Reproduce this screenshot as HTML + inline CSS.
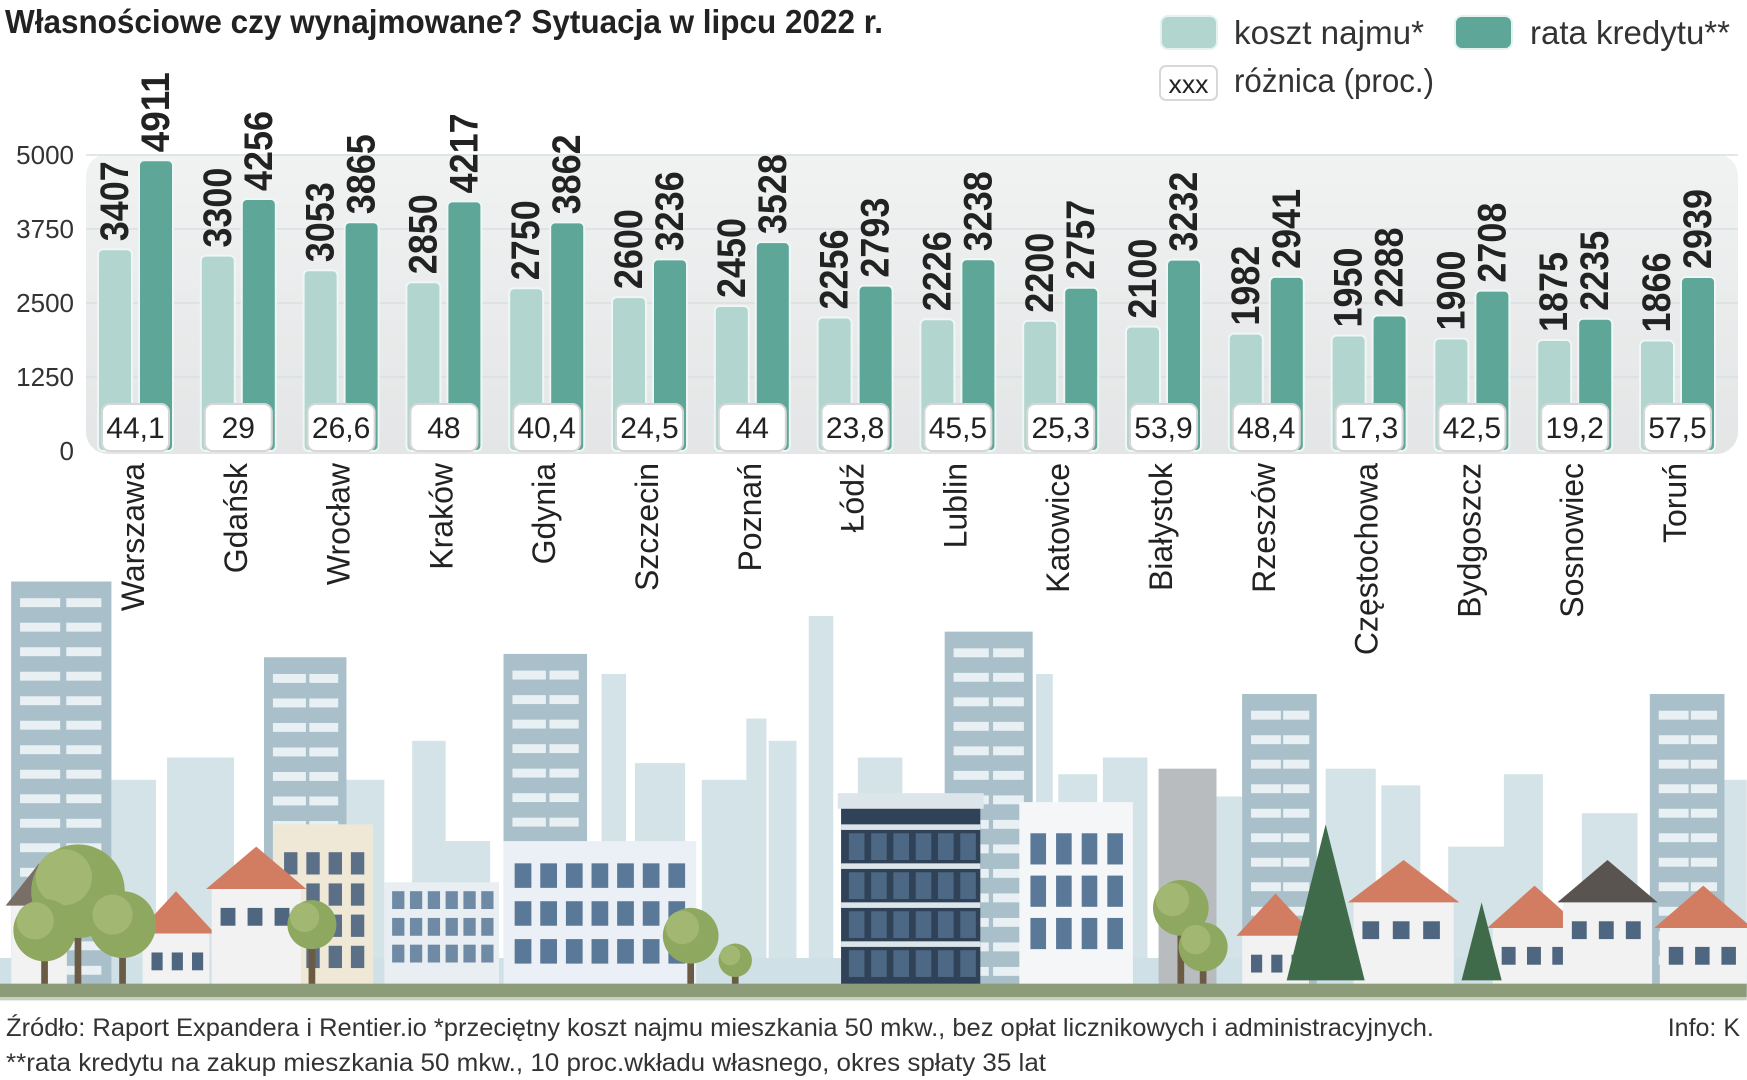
<!DOCTYPE html>
<html><head><meta charset="utf-8">
<style>
html,body{margin:0;padding:0;background:#fff;}
svg{display:block;font-family:"Liberation Sans",sans-serif;}
</style></head>
<body>
<svg id="chart" width="1747" height="1080" viewBox="0 0 1747 1080" xmlns="http://www.w3.org/2000/svg">
<defs>
<linearGradient id="panelG" x1="0" y1="0" x2="0" y2="1">
<stop offset="0" stop-color="#f1f2f2"/><stop offset="1" stop-color="#e3e5e6"/>
</linearGradient>
</defs>
<text x="5" y="33" font-size="33" font-weight="bold" fill="#222" textLength="878" lengthAdjust="spacingAndGlyphs">Własnościowe czy wynajmowane? Sytuacja w lipcu 2022 r.</text>

<g>
<rect x="1161" y="16" width="56" height="33" rx="7" fill="#b3d5cf" stroke="#e6f2f0" stroke-width="2"/>
<text x="1234" y="44" font-size="33" fill="#333" textLength="190" lengthAdjust="spacingAndGlyphs">koszt najmu*</text>
<rect x="1455" y="16" width="57" height="33" rx="7" fill="#5ea698" stroke="#e6f2f0" stroke-width="2"/>
<text x="1530" y="44" font-size="33" fill="#333" textLength="200" lengthAdjust="spacingAndGlyphs">rata kredytu**</text>
<rect x="1160" y="66" width="57" height="34" rx="6" fill="#fff" stroke="#d8d8d8" stroke-width="2"/>
<text x="1188.5" y="93" font-size="26" fill="#222" text-anchor="middle" textLength="40" lengthAdjust="spacingAndGlyphs">xxx</text>
<text x="1234" y="92" font-size="33" fill="#333" textLength="200" lengthAdjust="spacingAndGlyphs">różnica (proc.)</text>
</g>

<rect x="86" y="154" width="1652" height="300" rx="22" fill="url(#panelG)"/>
<g id="grid"></g>
<g id="yaxis"></g>
<g id="bars"></g>

<g id="city"></g>

<text x="6" y="1036" font-size="25" fill="#333" textLength="1428" lengthAdjust="spacingAndGlyphs">Źródło: Raport Expandera i Rentier.io *przeciętny koszt najmu mieszkania 50 mkw., bez opłat licznikowych i administracyjnych.</text>
<text x="1740" y="1036" font-size="25" fill="#333" text-anchor="end">Info: K</text>
<text x="6" y="1071" font-size="25" fill="#333" textLength="1040" lengthAdjust="spacingAndGlyphs">**rata kredytu na zakup mieszkania 50 mkw., 10 proc.wkładu własnego, okres spłaty 35 lat</text>
</svg>
<script>
const cities=["Warszawa","Gdańsk","Wrocław","Kraków","Gdynia","Szczecin","Poznań","Łódź","Lublin","Katowice","Białystok","Rzeszów","Częstochowa","Bydgoszcz","Sosnowiec","Toruń"];
const rentValues=[3407,3300,3053,2850,2750,2600,2450,2256,2226,2200,2100,1982,1950,1900,1875,1866];
const loanValues=[4911,4256,3865,4217,3862,3236,3528,2793,3238,2757,3232,2941,2288,2708,2235,2939];
const diffLabels=["44,1","29","26,6","48","40,4","24,5","44","23,8","45,5","25,3","53,9","48,4","17,3","42,5","19,2","57,5"];
const yTicks=[0,1250,2500,3750,5000];

const NS="http://www.w3.org/2000/svg";
const y0=451, yMax=5000, yPx=296;
function yScale(v){return y0-v*yPx/yMax;}
function xGroup(i){return 98+i*102.8;}
function mk(tag,attrs,parent,txt){const e=document.createElementNS(NS,tag);for(const k in attrs)e.setAttribute(k,attrs[k]);if(txt!==undefined)e.textContent=txt;parent.appendChild(e);return e;}

const grid=document.getElementById('grid'),yaxis=document.getElementById('yaxis'),bars=document.getElementById('bars');
yTicks.forEach(t=>{
  if(t>0){const l=mk('line',{x1:86,x2:1738,y1:yScale(t),y2:yScale(t),stroke:'#d9dfe2','stroke-width':1.5},grid);
  
  }
  const tx=mk('text',{x:74,y:yScale(t)+9,'font-size':26,fill:'#333','text-anchor':'end'},yaxis,String(t));
  
  
});
cities.forEach((c,i)=>{
  const x=xGroup(i), w=34;
  const g=mk('g',{},bars);
  
  
  const r=mk('rect',{x:x,y:yScale(rentValues[i]),width:w,height:y0-yScale(rentValues[i]),rx:5,fill:'#b3d5cf',stroke:'#eef7f5','stroke-width':2},g);
  
  
  const xd=x+41;
  const d=mk('rect',{x:xd,y:yScale(loanValues[i]),width:w,height:y0-yScale(loanValues[i]),rx:5,fill:'#5ea698',stroke:'#eef7f5','stroke-width':2},g);
  
  
  const cx1=x+w/2, cx2=xd+w/2;
  const t1=mk('text',{transform:`translate(${cx1+13},${yScale(rentValues[i])-8}) rotate(-90)`,'font-size':40,'font-weight':'bold',fill:'#222',textLength:80,lengthAdjust:'spacingAndGlyphs'},g,String(rentValues[i]));
  
  
  const t2=mk('text',{transform:`translate(${cx2+13},${yScale(loanValues[i])-8}) rotate(-90)`,'font-size':40,'font-weight':'bold',fill:'#222',textLength:80,lengthAdjust:'spacingAndGlyphs'},g,String(loanValues[i]));
  
  
  const b=mk('rect',{x:x+4,y:404,width:67,height:47,rx:8,fill:'#fff',stroke:'#d6d6d6','stroke-width':2},g);
  
  
  const bt=mk('text',{x:x+37.5,y:438,'font-size':30,fill:'#222','text-anchor':'middle'},g,diffLabels[i]);
  
  
  const cl=mk('text',{transform:`translate(${cx1+29},463) rotate(-90)`,'font-size':32,fill:'#222','text-anchor':'end'},g,c);
  
  
});

// illustration (decorative)
const city=document.getElementById('city');
const S=1.114;
function R(x,y,w,h,f){const e=mk('rect',{x:x*S,y:y*S,width:w*S,height:h*S,fill:f},city);return e;}
function C(x,y,r,f){return mk('circle',{cx:x*S,cy:y*S,r:r*S,fill:f},city);}
function P(pts,f){return mk('polygon',{points:pts.map((p,i)=>p*S).join(' '),fill:f},city);}
[[100,700,40,185],[150,680,60,205],[310,700,35,185],[370,665,30,220],[400,755,40,130],[540,605,22,280],[570,685,45,200],[630,700,40,185],[670,645,18,240],[690,665,25,220],[726,553,22,332],[770,680,40,205],[930,605,15,280],[950,695,35,190],[990,680,40,205],[1090,715,25,170],[1190,690,45,195],[1240,705,35,180],[1300,760,60,125],[1350,695,35,190],[1420,730,50,155],[1540,700,28,185]].forEach(b=>R(b[0],b[1],b[2],b[3],'#d3e3e8'));
R(0,860,1568,28,'#cfe0e6');
[[10,522,90,363],[237,590,74,295],[452,587,75,298],[848,567,79,318],[1115,623,67,262],[1481,623,67,262]].forEach(t=>{
  R(t[0],t[1],t[2],t[3],'#a9c0ca');
  for(let yy=t[1]+15;yy<t[1]+t[3]-10;yy+=22){R(t[0]+8,yy,t[2]*0.4,8,'#e8f0f3');R(t[0]+t[2]*0.55,yy,t[2]*0.35,8,'#e8f0f3');}
});
R(1040,690,52,195,'#b8bcbf');
R(245,740,90,145,'#efe8d6');for(let r=0;r<4;r++)for(let c=0;c<4;c++)R(255+c*20,765+r*28,12,20,'#5b6f86');
R(345,792,103,93,'#e8eef2');for(let r=0;r<3;r++)for(let c=0;c<6;c++)R(352+c*16,800+r*24,11,16,'#6f8aa5');
R(452,755,173,130,'#eaf0f5');for(let r=0;r<3;r++)for(let c=0;c<7;c++)R(462+c*23,775+r*34,15,22,'#5a7898');
R(755,713,125,172,'#2f4257');R(752,712,131,14,'#dce5ea');for(let r=0;r<4;r++)R(755,740+r*35,125,5,'#dce5ea');
for(let r=0;r<4;r++)for(let c=0;c<6;c++)R(762+c*20,748+r*35,14,24,'#4d6884');
R(915,720,102,165,'#f4f6f8');for(let r=0;r<3;r++)for(let c=0;c<4;c++)R(925+c*23,748+r*38,14,28,'#5a7898');
function house(x,w,y,roof){R(x,y+25,w,885-y-25,'#f2f2f2');P([x-5,y+28,x+w/2,y-10,x+w+5,y+28],roof);for(let c=0;c<3;c++)R(x+8+c*w/3.3,y+45,w/6,16,'#4f6680');}
house(10,50,785,'#7a6f66');house(128,60,810,'#d27c62');house(190,80,770,'#d27c62');house(1115,60,812,'#d27c62');house(1215,90,782,'#d27c62');house(1340,75,805,'#d27c62');house(1403,80,782,'#5a5450');house(1490,78,805,'#d27c62');
[[70,800,42],[110,830,30],[40,835,28],[280,830,22],[620,840,25],[660,862,15],[1060,815,25],[1080,850,22]].forEach(t=>{R(t[0]-3,t[1],6,885-t[1],'#6b5a44');C(t[0],t[1],t[2],'#8fa860');C(t[0]-t[2]*0.3,t[1]-t[2]*0.3,t[2]*0.6,'#a1b772');});
[[1190,740,35],[1330,810,18]].forEach(p=>{P([p[0]-p[2],880,p[0],p[1],p[0]+p[2],880],'#3f6b4a');});
R(0,883,1568,12,'#8c9c78');R(0,895,1568,3,'#c8cfc0');
</script>
</body></html>
